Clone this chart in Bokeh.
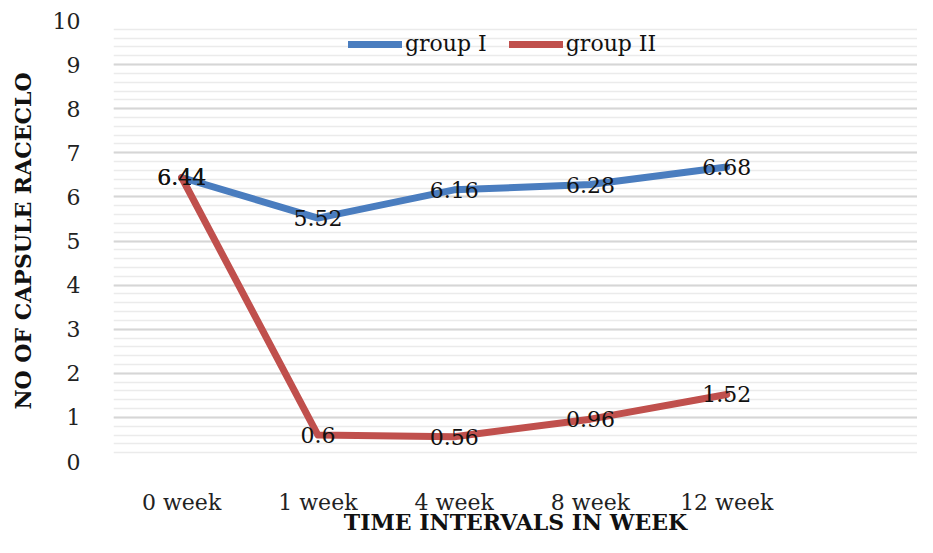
from bokeh.plotting import figure
from bokeh.models import SingleIntervalTicker, FixedTicker, Legend, LegendItem, ColumnDataSource
from bokeh.core.properties import value
from bokeh.embed import file_html
from bokeh.resources import INLINE

categories = ["0 week", "1 week", "4 week", "8 week", "12 week"]
group1 = [6.44, 5.52, 6.16, 6.28, 6.68]
group2 = [6.44, 0.6, 0.56, 0.96, 1.52]
series_names = ["group I", "group II"]
x_title = "TIME INTERVALS IN WEEK"
y_title = "NO OF CAPSULE RACECLO"

FONT = "DejaVu Serif"
BLUE = "#4a7dbf"
RED = "#c0504d"

xs = list(range(len(categories)))

p = figure(width=917, height=537, output_backend="svg", toolbar_location=None,
           x_range=(-0.5, 5.4), y_range=(0, 10),
           min_border_left=113, min_border_right=0, min_border_top=20, min_border_bottom=60)
p.outline_line_color = None
p.background_fill_color = "white"
p.border_fill_color = "white"

p.xgrid.grid_line_color = None
p.yaxis.ticker = SingleIntervalTicker(interval=1, num_minor_ticks=5)
p.ygrid.grid_line_color = "#d6d6d6"
p.ygrid.grid_line_width = 2
p.ygrid.minor_grid_line_color = "#ebebeb"
p.ygrid.minor_grid_line_width = 1.5

p.xaxis.ticker = FixedTicker(ticks=xs)
p.xaxis.major_label_overrides = {i: c for i, c in enumerate(categories)}

for ax in (p.xaxis, p.yaxis):
    ax.axis_line_color = None
    ax.major_tick_line_color = None
    ax.minor_tick_line_color = None
    ax.major_label_text_font = FONT
    ax.major_label_text_font_size = "22px"
    ax.major_label_text_color = "#222222"
    ax.axis_label_text_font = FONT
    ax.axis_label_text_font_style = "bold"
    ax.axis_label_text_font_size = "22px"
    ax.axis_label_text_color = "#111111"

p.xaxis.major_label_standoff = 22
p.xaxis.axis_label = x_title
p.xaxis.axis_label_standoff = -9
p.yaxis.major_label_standoff = 27
p.yaxis.axis_label = y_title
p.yaxis.axis_label_standoff = 14

src1 = ColumnDataSource(dict(x=xs, y=group1, t=[str(v) for v in group1]))
src2 = ColumnDataSource(dict(x=xs, y=group2, t=[str(v) for v in group2]))

r1 = p.line("x", "y", source=src1, line_color=BLUE, line_width=7, line_join="round", line_cap="round")
r2 = p.line("x", "y", source=src2, line_color=RED, line_width=7, line_join="round", line_cap="round")

for src in (src2, src1):
    p.text("x", "y", text="t", source=src, text_align="center", text_baseline="middle",
           text_font=value(FONT), text_font_size="22px", text_color="#111111")

legend = Legend(items=[LegendItem(label=series_names[0], renderers=[r1]),
                       LegendItem(label=series_names[1], renderers=[r2])],
                orientation="horizontal", location=(235, 405),
                background_fill_alpha=0, border_line_color=None,
                label_text_font=FONT, label_text_font_size="22px", label_text_color="#111111",
                glyph_width=54, glyph_height=20, label_standoff=3, spacing=22, padding=2)
p.add_layout(legend, "center")

open("out.html", "w").write(file_html(p, INLINE))
